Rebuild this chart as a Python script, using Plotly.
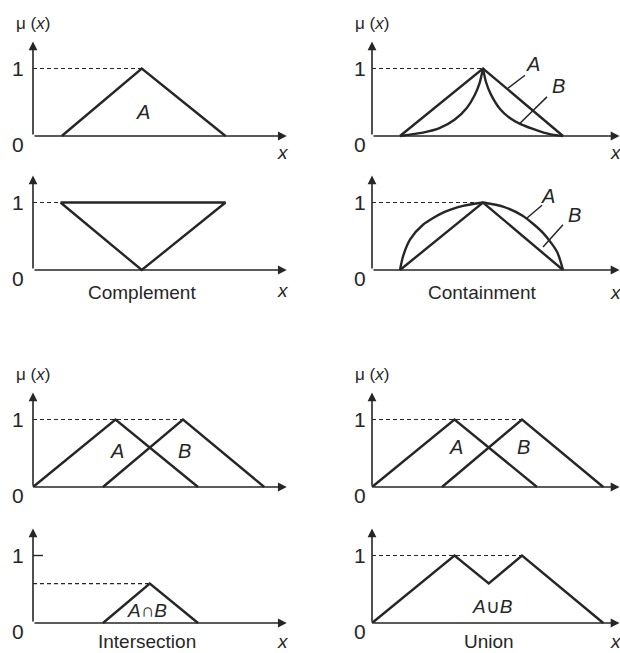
import numpy as np
import plotly.graph_objects as go

# ---------------- data (membership values, x in arbitrary units) ----------------
# Single fuzzy set A
setA_x = [1.15, 4.35, 7.7]
setA_mu = [0, 1, 0]

# Complement of A (outline drawn as in the diagram)
comp_x = [1.1, 7.7, 4.35, 1.1]
comp_mu = [1, 1, 0, 1]

# Containment, upper: A triangle and concentrated B (B inside A)
contA_x = [1.12, 4.44, 7.64]
contA_mu = [0, 1, 0]
contB_left_x = [1.12, 2.04, 2.72, 3.3, 3.8, 4.1, 4.3, 4.44]
contB_left_mu = [0, 0.05, 0.12, 0.24, 0.42, 0.6, 0.78, 1]
contB_right_x = [4.44, 4.56, 4.75, 5.12, 5.5, 5.92, 6.72, 7.2, 7.64]
contB_right_mu = [1, 0.8, 0.62, 0.4, 0.27, 0.18, 0.07, 0.02, 0]

# Containment, lower: dilated A (arc) around triangle B
arcA_left_x = [1.12, 1.24, 1.52, 2.04, 2.84, 3.64, 4.44]
arcA_left_mu = [0, 0.2, 0.45, 0.67, 0.85, 0.95, 1]
arcA_right_x = [4.44, 5.24, 6.04, 6.84, 7.4, 7.64]
arcA_right_mu = [1, 0.94, 0.8, 0.55, 0.27, 0]
triB_x = [1.12, 4.44, 7.64]
triB_mu = [0, 1, 0]

# Two overlapping triangular sets used for intersection and union
A_pts = [0, 3.3, 6.6]
B_pts = [2.8, 6.0, 9.25]
tri_mu = [0, 1, 0]

# crossing point of A's falling edge with B's rising edge
a_peak, a_end = A_pts[1], A_pts[2]
b_start, b_peak = B_pts[0], B_pts[1]
sa = -1.0 / (a_end - a_peak)
sb = 1.0 / (b_peak - b_start)
x_cross = (sb * b_start - sa * a_end) / (sb - sa)
mu_cross = sb * (x_cross - b_start)

inter_x = [b_start, x_cross, a_end]
inter_mu = [0, mu_cross, 0]
union_x = [A_pts[0], a_peak, x_cross, b_peak, B_pts[2]]
union_mu = [0, 1, mu_cross, 1, 0]

# ---------------- layout geometry ----------------
W, H = 620, 653
INK = "#262626"
FONT = "Liberation Sans, Arial, sans-serif"
PPU_X = 25.0     # px per x unit
PPU_Y = 67.5     # px per membership unit

fig = go.Figure()

# x axes: left column origin at px 33, right column origin at px 372
x_axes = {
    "x": dict(dom=(0, 310), origin=33),
    "x2": dict(dom=(310, 620), origin=372),
}
# y axes: (band top px, band bottom px, baseline px)
y_axes = {
    "y": (0, 160, 136),
    "y2": (160, 320, 270),
    "y3": (330, 500, 487),
    "y4": (500, 653, 623),
}

layout_axes = {}
for name, cfg in x_axes.items():
    p0, p1 = cfg["dom"]
    o = cfg["origin"]
    key = "xaxis" if name == "x" else "xaxis" + name[1:]
    layout_axes[key] = dict(domain=[p0 / W, p1 / W],
                            range=[-(o - p0) / PPU_X, (p1 - o) / PPU_X],
                            visible=False, fixedrange=True)
for name, (top, bot, base) in y_axes.items():
    key = "yaxis" if name == "y" else "yaxis" + name[1:]
    layout_axes[key] = dict(domain=[1 - bot / H, 1 - top / H],
                            range=[-(bot - base) / PPU_Y, (base - top) / PPU_Y],
                            visible=False, fixedrange=True, anchor="x")
layout_axes["xaxis"]["anchor"] = "y"
layout_axes["xaxis2"]["anchor"] = "y"

annotations = []


def curve(x, y, xa, ya, shape="linear", dash=None, width=2.4):
    fig.add_trace(go.Scatter(
        x=x, y=y, xaxis=xa, yaxis=ya, mode="lines",
        line=dict(color=INK, width=width, shape=shape, dash=dash,
                  smoothing=0.7 if shape == "spline" else None),
        hoverinfo="skip", showlegend=False))


def text(t, x, y, xa, ya, size=20, **kw):
    annotations.append(dict(text=t, x=x, y=y, xref=xa, yref=ya, showarrow=False,
                            font=dict(family=FONT, size=size, color=INK), **kw))


def frame(xa, ya, xend, yend=1.4, top_label=False, x_label_y=-0.3, caption=None,
          cap_x=4.4, cap_y=-0.33, zero_y=-0.13, one_x=-0.6, one=True):
    # axes drawn as arrows from the origin
    annotations.append(dict(x=xend, y=0, ax=0, ay=0, xref=xa, yref=ya, axref=xa, ayref=ya,
                            text="", showarrow=True, arrowhead=2, arrowsize=1.1,
                            arrowwidth=1.6, arrowcolor=INK))
    annotations.append(dict(x=0, y=yend, ax=0, ay=0, xref=xa, yref=ya, axref=xa, ayref=ya,
                            text="", showarrow=True, arrowhead=2, arrowsize=1.1,
                            arrowwidth=1.6, arrowcolor=INK))
    text("0", one_x, zero_y, xa, ya, size=21)
    if one:
        text("1", one_x, 1.0, xa, ya, size=21)
    text("<i>x</i>", xend - 0.15, x_label_y, xa, ya, size=19)
    if top_label:
        text("\u03bc (<i>x</i>)", 0, 1.66, xa, ya, size=17)
    if caption:
        text(caption, cap_x, cap_y, xa, ya, size=19)


def dashed(x0, x1, level, xa, ya):
    curve([x0, x1], [level, level], xa, ya, dash="4px,3px", width=1.2)


def leader(pts, xa, ya):
    curve([pts[0][0], pts[1][0]], [pts[0][1], pts[1][1]], xa, ya, width=1.5)


# --- panel: fuzzy set A ---
frame("x", "y", 10.15, top_label=True, x_label_y=-0.24)
dashed(0, setA_x[1], 1, "x", "y")
curve(setA_x, setA_mu, "x", "y")
text("<i>A</i>", 4.4, 0.36, "x", "y", size=20)

# --- panel: complement ---
frame("x", "y2", 10.15, x_label_y=-0.31, caption="Complement", cap_x=4.36)
dashed(0, comp_x[0], 1, "x", "y2")
curve(comp_x, comp_mu, "x", "y2")

# --- panel: containment (concentrated B) ---
frame("x2", "y", 9.9, top_label=True, x_label_y=-0.25, one_x=-0.48)
dashed(0, contA_x[1], 1, "x2", "y")
curve(contA_x, contA_mu, "x2", "y")
curve(contB_left_x, contB_left_mu, "x2", "y", shape="spline")
curve(contB_right_x, contB_right_mu, "x2", "y", shape="spline")
leader([(6.12, 0.9), (5.44, 0.71)], "x2", "y")
leader([(7.0, 0.58), (5.92, 0.19)], "x2", "y")
text("<i>A</i>", 6.45, 1.06, "x2", "y", size=20)
text("<i>B</i>", 7.45, 0.74, "x2", "y", size=20)

# --- panel: containment (dilated A) ---
frame("x2", "y2", 9.9, x_label_y=-0.33, caption="Containment", cap_x=4.4, one_x=-0.48)
dashed(0, triB_x[1], 1, "x2", "y2")
curve(triB_x, triB_mu, "x2", "y2")
curve(arcA_left_x, arcA_left_mu, "x2", "y2", shape="spline")
curve(arcA_right_x, arcA_right_mu, "x2", "y2", shape="spline")
leader([(6.8, 0.96), (6.2, 0.77)], "x2", "y2")
leader([(7.64, 0.67), (6.84, 0.34)], "x2", "y2")
text("<i>A</i>", 7.05, 1.09, "x2", "y2", size=20)
text("<i>B</i>", 8.1, 0.82, "x2", "y2", size=20)

# --- panels: two sets A and B ---
for xa, one_x, lab_y in (("x", -0.6, 0.53), ("x2", -0.48, 0.59)):
    frame(xa, "y3", 10.15 if xa == "x" else 9.9, top_label=True,
          x_label_y=-0.34, one_x=one_x)
    dashed(0, B_pts[1], 1, xa, "y3")
    curve(A_pts, tri_mu, xa, "y3")
    curve(B_pts, tri_mu, xa, "y3")
    text("<i>A</i>", A_pts[1] + 0.05, lab_y, xa, "y3", size=20)
    text("<i>B</i>", B_pts[1] + 0.05, lab_y, xa, "y3", size=20)

# --- panel: intersection ---
frame("x", "y4", 10.15, x_label_y=-0.27, caption="Intersection", cap_x=4.56, cap_y=-0.27)
curve([0, 0.4], [1, 1], "x", "y4", width=1.4)
dashed(0, inter_x[1], inter_mu[1], "x", "y4")
curve(inter_x, inter_mu, "x", "y4")
text("<i>A</i>\u2229<i>B</i>", 4.56, 0.19, "x", "y4", size=19)

# --- panel: union ---
frame("x2", "y4", 9.9, x_label_y=-0.27, caption="Union", cap_x=4.68, cap_y=-0.27, one_x=-0.48)
dashed(0, union_x[3], 1, "x2", "y4")
curve(union_x, union_mu, "x2", "y4")
text("<i>A</i>\u222a<i>B</i>", 4.8, 0.25, "x2", "y4", size=19)

fig.update_layout(
    width=W, height=H,
    margin=dict(l=0, r=0, t=0, b=0),
    paper_bgcolor="white", plot_bgcolor="rgba(0,0,0,0)",
    showlegend=False,
    annotations=annotations,
    **layout_axes,
)

fig.write_html("out.html")
